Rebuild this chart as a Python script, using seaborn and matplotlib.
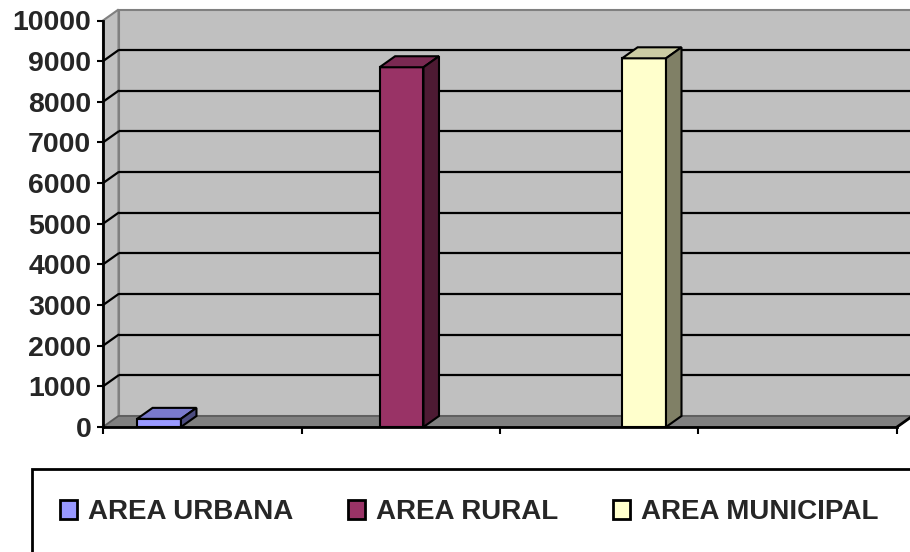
import numpy as np
import pandas as pd
import matplotlib
matplotlib.use("Agg")
import matplotlib.pyplot as plt
import matplotlib.colors as mcolors
from matplotlib.patches import Polygon, Rectangle, Patch
import seaborn as sns

# ---- data ----
categories = ["AREA URBANA", "AREA RURAL", "AREA MUNICIPAL"]
values = [200, 8850, 9070]
yticks = list(range(0, 10001, 1000))
colors = ["#9999FF", "#993366", "#FFFFCC"]

sns.set_style("white")
plt.rcParams["font.family"] = ["Liberation Sans", "DejaVu Sans"]

W, H = 910, 552
fig = plt.figure(figsize=(W / 100, H / 100), dpi=100)
ax = fig.add_axes([103 / W, (H - 427) / H, 794 / W, 406.5 / H])
ax.set_facecolor("none")

df = pd.DataFrame({"area": categories, "value": values})
sns.barplot(data=df, x="area", y="value", hue="area", palette=colors,
            saturation=1, width=0.181, edgecolor="black", linewidth=1.5,
            ax=ax, zorder=5, legend=False)
bars = list(ax.patches)

xl, xr = -0.231, 3.043
ax.set_xlim(xl, xr)
ax.set_ylim(0, 10000)
px_x = 794 / (xr - xl)
px_y = 406.5 / 10000
dx = 15.5 / px_x
dy = 11 / px_y

# back wall
ax.add_patch(Rectangle((xl + dx, dy), xr - xl, 10000, facecolor="#C0C0C0",
                       edgecolor="#808080", lw=1.5, zorder=0, clip_on=False))
# left side wall
ax.add_patch(Polygon([(xl, 0), (xl + dx, dy), (xl + dx, 10000 + dy), (xl, 10000)],
                     closed=True, facecolor="#C0C0C0", edgecolor="#808080",
                     lw=1.5, zorder=0.5, clip_on=False))
# floor
ax.add_patch(Polygon([(xl, 0), (xr, 0), (xr + dx, dy), (xl + dx, dy)],
                     closed=True, facecolor="#808080", edgecolor="#5a5a5a",
                     lw=1.2, zorder=0.6, clip_on=False))
ax.plot([xr, xr + dx], [0, dy], color="black", lw=2, zorder=6, clip_on=False)

# gridlines (back wall + side wall)
for v in yticks[1:-1]:
    ax.plot([xl + dx, xr + dx], [v + dy, v + dy], color="black", lw=1.6,
            zorder=1, clip_on=False, solid_capstyle="butt")
    ax.plot([xl, xl + dx], [v, v + dy], color="black", lw=1.6,
            zorder=1, clip_on=False)

# 3D faces of bars
for p in bars:
    x0, w, h = p.get_x(), p.get_width(), p.get_height()
    fc = np.array(mcolors.to_rgb(p.get_facecolor()))
    top = Polygon([(x0, h), (x0 + w, h), (x0 + w + dx, h + dy), (x0 + dx, h + dy)],
                  closed=True, facecolor=fc * 0.8, edgecolor="black", lw=1.5,
                  zorder=5, clip_on=False, joinstyle="miter")
    side = Polygon([(x0 + w, 0), (x0 + w + dx, dy), (x0 + w + dx, h + dy), (x0 + w, h)],
                   closed=True, facecolor=fc * 0.5, edgecolor="black", lw=1.5,
                   zorder=5, clip_on=False, joinstyle="miter")
    ax.add_patch(top)
    ax.add_patch(side)

# axes styling
ax.set_xlabel("")
ax.set_ylabel("")
ax.set_yticks(yticks)
ax.set_yticklabels([str(t) for t in yticks], fontsize=20.5, fontweight="bold")
ax.set_xticks(np.linspace(xl, xr, 5))
ax.set_xticklabels([])
ax.tick_params(axis="y", direction="out", length=4.5, width=1.5, pad=4,
               left=True, color="black")
ax.tick_params(axis="x", direction="out", length=5, width=1.5,
               bottom=True, color="black")
for s in ["top", "right"]:
    ax.spines[s].set_visible(False)
for s in ["left", "bottom"]:
    ax.spines[s].set_color("black")
    ax.spines[s].set_linewidth(2)
    ax.spines[s].set_zorder(6)

# legend
handles = [Patch(facecolor=c, edgecolor="black", linewidth=2, label=n)
           for c, n in zip(colors, categories)]
fig.legend(handles=handles, loc="center left",
           bbox_to_anchor=(60 / W, (H - 512) / H), ncol=3, frameon=False,
           prop={"size": 20, "weight": "bold"}, handlelength=0.62,
           handleheight=0.7, handletextpad=0.4, columnspacing=1.95,
           borderpad=0, borderaxespad=0)
fig.add_artist(Rectangle((32 / W, -0.05), 1.0, (H - 469) / H + 0.05,
                         transform=fig.transFigure, fill=False,
                         edgecolor="black", lw=2, clip_on=False))

fig.savefig("out.png", dpi=100)
